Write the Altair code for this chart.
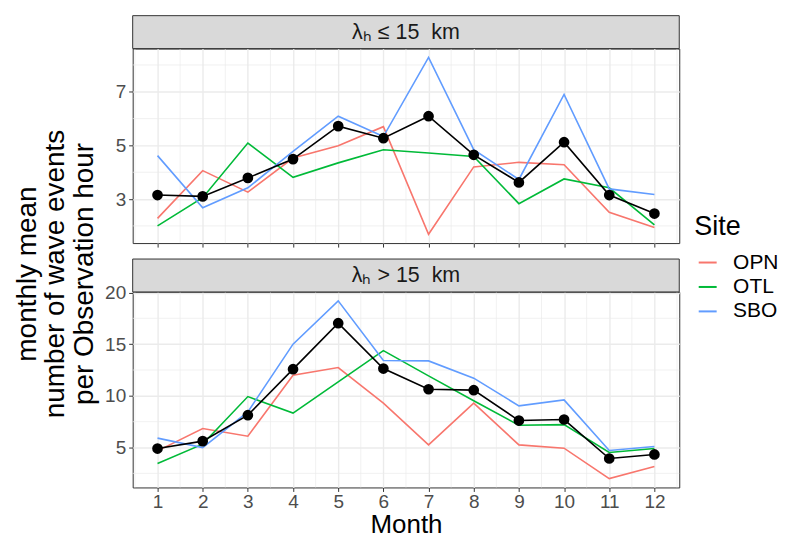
import altair as alt
import pandas as pd

months = list(range(1, 13))
sites = ["OPN", "OTL", "SBO"]
site_colors = ["#F8766D", "#00BA38", "#619CFF"]
panel_labels = ["λₕ ≤ 15\u00a0\u00a0km", "λₕ > 15\u00a0\u00a0km"]
y_title = "monthly mean\nnumber of wave events\nper Observation hour"

short_opn = [2.28, 4.06, 3.26, 4.53, 4.99, 5.70, 1.69, 4.20, 4.37, 4.28, 2.51, 1.94]
short_otl = [2.00, 3.05, 5.09, 3.81, 4.35, 4.84, 4.72, 4.59, 2.83, 3.75, 3.42, 2.04]
short_sbo = [4.62, 2.68, 3.42, 4.78, 6.09, 5.33, 8.28, 4.84, 3.73, 6.90, 3.38, 3.17]
short_mean = [3.15, 3.10, 3.79, 4.49, 5.72, 5.27, 6.09, 4.65, 3.62, 5.12, 3.15, 2.46]

long_opn = [4.68, 6.84, 6.10, 12.00, 12.74, 9.29, 5.26, 9.29, 5.26, 4.94, 2.00, 3.16]
long_otl = [3.45, 5.33, 9.93, 8.33, 11.35, 14.38, 11.93, 9.52, 7.16, 7.22, 4.52, 4.90]
long_sbo = [5.91, 5.00, 8.45, 15.00, 19.19, 13.42, 13.38, 11.71, 9.03, 9.61, 4.71, 5.10]
long_mean = [4.90, 5.62, 8.13, 12.58, 17.03, 12.64, 10.64, 10.55, 7.61, 7.71, 3.94, 4.33]

x_major = months
x_minor = [m - 0.5 for m in months] + [12.5]
top_y_major = [3, 5, 7]
top_y_minor = [2, 4, 6, 8]
bottom_y_major = [5, 10, 15, 20]
bottom_y_minor = [2.5, 7.5, 12.5, 17.5]

FONT = "Liberation Sans"
W = 548
GRID = "#EBEBEB"


def site_frame(series):
    rows = []
    for s, vals in zip(sites, series):
        for m, v in zip(months, vals):
            rows.append({"Month": m, "Site": s, "value": v})
    return pd.DataFrame(rows)


def panel(series, mean_vals, label, ydomain, ymajor, yminor, bottom, height):
    x_axis = alt.Axis(
        values=x_major,
        grid=True, gridColor=GRID, gridWidth=1.4,
        ticks=True, tickColor="#333333", tickSize=4, tickWidth=1,
        domain=False,
        labels=bottom,
        labelOverlap=False, labelFlush=False,
        labelFont=FONT, labelFontSize=19, labelColor="#4D4D4D", labelPadding=1,
        title="Month" if bottom else None,
        titleFont=FONT, titleFontSize=26, titleFontWeight="normal", titleColor="black",
        titlePadding=0,
    )
    y_axis = alt.Axis(
        values=ymajor,
        grid=True, gridColor=GRID, gridWidth=1.4,
        ticks=True, tickColor="#333333", tickSize=4, tickWidth=1,
        domain=False,
        labelOverlap=False, labelFlush=False,
        labelFont=FONT, labelFontSize=19, labelColor="#4D4D4D", labelPadding=3,
        title=None,
    )
    xscale = alt.Scale(domain=[0.45, 12.55], nice=False, zero=False)
    yscale = alt.Scale(domain=ydomain, nice=False, zero=False)
    xenc = alt.X("Month:Q", scale=xscale, axis=x_axis)
    yenc = alt.Y("value:Q", scale=yscale, axis=y_axis)

    xgrid = alt.Chart(pd.DataFrame({"Month": x_minor})).mark_rule(
        color=GRID, strokeWidth=0.7).encode(x=xenc)
    ygrid = alt.Chart(pd.DataFrame({"value": yminor})).mark_rule(
        color=GRID, strokeWidth=0.7).encode(y=yenc)

    lines = alt.Chart(site_frame(series)).mark_line(strokeWidth=1.6).encode(
        x=xenc, y=yenc,
        color=alt.Color("Site:N", scale=alt.Scale(domain=sites, range=site_colors),
                        legend=alt.Legend(title="Site")),
    )
    mdf = pd.DataFrame({"Month": months, "value": mean_vals})
    mline = alt.Chart(mdf).mark_line(color="black", strokeWidth=1.6).encode(x=xenc, y=yenc)
    mpts = alt.Chart(mdf).mark_point(filled=True, color="black", opacity=1, size=115).encode(
        x=xenc, y=yenc)

    lab = pd.DataFrame({"label": [label]})
    strip = alt.Chart(lab).mark_rect(fill="#D9D9D9", stroke="#333333", strokeWidth=1).encode(
        x=alt.value(0), x2=alt.value(W), y=alt.value(-33), y2=alt.value(0))
    strip_text = alt.Chart(lab).mark_text(font=FONT, fontSize=21.5, color="#1A1A1A",
                                          baseline="middle", align="center").encode(
        x=alt.value(W / 2), y=alt.value(-16), text="label:N")

    layers = [xgrid, ygrid, lines, mline, mpts, strip, strip_text]
    if bottom:
        ytl = alt.Chart(pd.DataFrame({"t": [y_title]})).mark_text(
            font=FONT, fontSize=28, color="black", angle=270, lineBreak="\n",
            lineHeight=28.5, align="center", baseline="middle",
        ).encode(x=alt.value(-105), y=alt.value(-18), text="t:N")
        layers.append(ytl)
    return alt.layer(*layers).properties(width=W, height=height)


top = panel([short_opn, short_otl, short_sbo], short_mean, panel_labels[0],
            [1.36, 8.61], top_y_major, top_y_minor, False, 195)
bottom = panel([long_opn, long_otl, long_sbo], long_mean, panel_labels[1],
               [1.14, 20.05], bottom_y_major, bottom_y_minor, True, 196)

chart = alt.vconcat(
    top, bottom, spacing=49, bounds="flush",
).configure_view(
    stroke="#333333", strokeWidth=1
).configure_legend(
    orient="none", legendX=563, legendY=166,
    titleFont=FONT, titleFontSize=27, titleFontWeight="normal", titleColor="black",
    titlePadding=11,
    labelFont=FONT, labelFontSize=21, labelColor="black", labelOffset=15,
    symbolType="stroke", symbolStrokeWidth=2, symbolSize=324, rowPadding=2.5,
    symbolOffset=3,
).properties(
    padding={"left": 5, "top": 6, "right": 0, "bottom": 0},
    background="white",
)

chart.save("out.html", embed_options={"renderer": "svg", "actions": False})
